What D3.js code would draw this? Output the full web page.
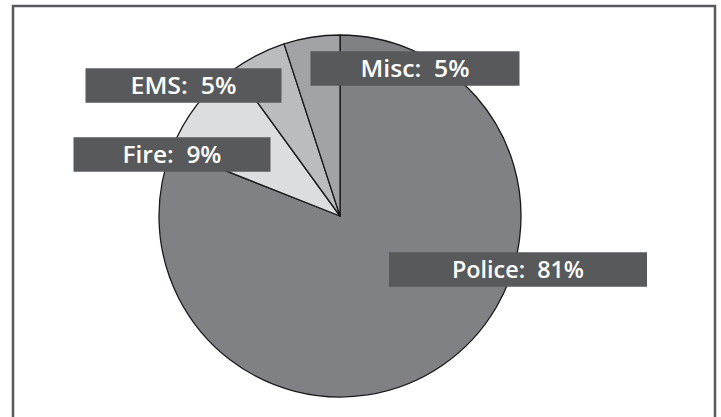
<!DOCTYPE html>
<html>
<head>
<meta charset="utf-8">
<script src="https://cdn.jsdelivr.net/npm/d3@7"></script>
<style>
  body { margin: 0; background: #fff; }
  svg { display: block; }
</style>
</head>
<body>
<div id="chart"></div>
<script>

// data
var categories = ["Police", "Fire", "EMS", "Misc"];
var shares = [81, 9, 5, 5];
var labelText = ["Police:  81%", "Fire:  9%", "EMS:  5%", "Misc:  5%"];

// slice colours
var fills = ["#808184", "#dcdddf", "#bbbcbe", "#a2a3a5"];

// label boxes (centre x, centre y, box width, text width), placed by hand like the original
var labelBoxes = [
    {cx: 518, cy: 269.5, w: 258, tw: 132},
    {cx: 172, cy: 154.5, w: 197, tw: 99},
    {cx: 183.5, cy: 85.5, w: 196, tw: 106},
    {cx: 415, cy: 68.5, w: 209, tw: 109}
];

var width = 721, height = 417;
var cx = 340, cy = 216, r = 181;

var svg = d3.select("#chart").append("svg")
    .attr("width", width)
    .attr("height", height);

// frame, bottom edge runs off the picture
svg.append("rect")
    .attr("x", 13)
    .attr("y", 6)
    .attr("width", 702)
    .attr("height", 430)
    .style("fill", "none")
    .style("stroke", "#58595b")
    .style("stroke-width", 2.5);

var pie = d3.pie().sort(null).value(function(d){ return d; });
var arc = d3.arc().innerRadius(0).outerRadius(r);

var g = svg.append("g")
    .attr("transform", "translate(" + cx + "," + cy + ")");

g.selectAll("path")
    .data(pie(shares))
    .enter().append("path")
    .attr("d", arc)
    .style("fill", function(d, i){ return fills[i]; })
    .style("stroke", "#1a1a1a")
    .style("stroke-width", 1.3)
    .style("stroke-linejoin", "round");

// labels
var lab = svg.selectAll(".lab")
    .data(categories)
    .enter().append("g")
    .attr("class", "lab");

lab.append("rect")
    .attr("x", function(d, i){ return labelBoxes[i].cx - labelBoxes[i].w / 2; })
    .attr("y", function(d, i){ return labelBoxes[i].cy - 17.25; })
    .attr("width", function(d, i){ return labelBoxes[i].w; })
    .attr("height", 34.5)
    .style("fill", "#58595b");

// text is a narrow semibold face in the original, so squeeze to the measured width
lab.append("text")
    .attr("x", function(d, i){ return labelBoxes[i].cx - labelBoxes[i].tw / 2; })
    .attr("y", function(d, i){ return labelBoxes[i].cy + 8.5; })
    .attr("textLength", function(d, i){ return labelBoxes[i].tw; })
    .attr("lengthAdjust", "spacingAndGlyphs")
    .style("white-space", "pre")
    .style("font-family", "'Open Sans', sans-serif")
    .style("font-weight", 600)
    .style("font-size", "24px")
    .style("fill", "#fff")
    .text(function(d, i){ return labelText[i]; });

</script>
</body>
</html>
